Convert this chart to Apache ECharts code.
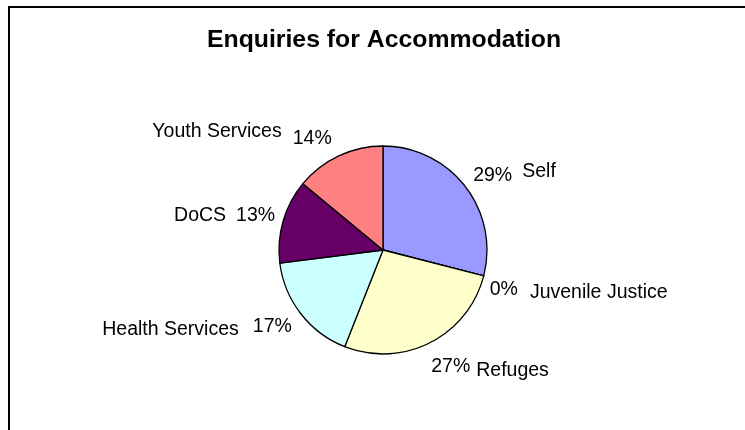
<!DOCTYPE html>
<html>
<head>
<meta charset="utf-8">
<script src="https://cdn.jsdelivr.net/npm/echarts@6/dist/echarts.min.js"></script>
<style>
  html, body { margin: 0; padding: 0; background: #fff; }
  #chart { width: 745px; height: 430px; }
</style>
</head>
<body>
<div id="chart"></div>
<script>
// Share of accommodation enquiries by referral source (percent)
const categories = ['Self', 'Juvenile Justice', 'Refuges', 'Health Services', 'DoCS', 'Youth Services'];
const shares = [29, 0, 27, 17, 13, 14];
const sliceColors = ['#9999FF', '#993366', '#FFFFCC', '#CCFFFF', '#660066', '#FF8080'];

// Pie geometry
const cx = 383, cy = 250, R = 104;

// Label placement: offset of the percent text from the rim point at the slice's mid angle,
// gap between percent and name, and vertical shift of the name relative to the percent.
const labelNudge = [[8, -11], [6, 14], [1, 24], [-9, 13], [-8, -5], [-7, -17]];
const nameGap = [10, 12, 6, 14, 10, 11];
const nameShift = [-4, 3, 4, 3, 0, -7];

const total = shares.reduce((a, b) => a + b, 0);
const midAngles = [];
let acc = 0;
shares.forEach(v => {
  midAngles.push((acc + v / 2) / total * Math.PI * 2);
  acc += v;
});
const onRight = midAngles.map(a => Math.sin(a) >= -1e-9);

const FONT = 'Liberation Sans, Arial, sans-serif';
const LABEL_SIZE = 19.5;

const rich = { p: { fontSize: LABEL_SIZE, fontFamily: FONT, color: '#000', verticalAlign: 'middle' } };
categories.forEach((c, i) => {
  const s = nameShift[i];
  const top = s > 0 ? 2 * s : 0;
  const bottom = s < 0 ? -2 * s : 0;
  rich['n' + i] = {
    fontSize: LABEL_SIZE, fontFamily: FONT, color: '#000', verticalAlign: 'middle',
    padding: onRight[i] ? [top, 0, bottom, nameGap[i]] : [top, nameGap[i], bottom, 0]
  };
});

const chart = echarts.init(document.getElementById('chart'), null, { renderer: 'canvas' });

chart.setOption({
  animation: false,
  backgroundColor: '#fff',
  title: {
    text: 'Enquiries for Accommodation',
    left: 379,
    textAlign: 'center',
    top: 23,
    textStyle: { fontFamily: FONT, fontSize: 24.8, fontWeight: 'bold', color: '#000' }
  },
  graphic: [{
    type: 'rect',
    shape: { x: 9, y: 7, width: 900, height: 600 },
    style: { fill: 'none', stroke: '#000', lineWidth: 2 },
    silent: true
  }],
  series: [{
    type: 'pie',
    center: [cx, cy],
    radius: R,
    startAngle: 90,
    clockwise: true,
    avoidLabelOverlap: false,
    minShowLabelAngle: 0,
    data: categories.map((name, i) => ({ name, value: shares[i], itemStyle: { color: sliceColors[i] } })),
    itemStyle: { borderColor: '#000', borderWidth: 1.3 },
    emphasis: { disabled: true },
    labelLine: { show: false },
    label: {
      show: true,
      position: 'outside',
      formatter: p => {
        const i = p.dataIndex;
        const pct = '{p|' + p.value + '%}';
        const nm = '{n' + i + '|' + p.name + '}';
        return onRight[i] ? pct + nm : nm + pct;
      },
      rich: rich
    },
    labelLayout: p => {
      const i = p.dataIndex;
      const a = midAngles[i];
      const rx = cx + R * Math.sin(a);
      const ry = cy - R * Math.cos(a);
      return {
        x: rx + labelNudge[i][0],
        y: ry + labelNudge[i][1],
        align: onRight[i] ? 'left' : 'right',
        verticalAlign: 'middle'
      };
    }
  }]
});
</script>
</body>
</html>
